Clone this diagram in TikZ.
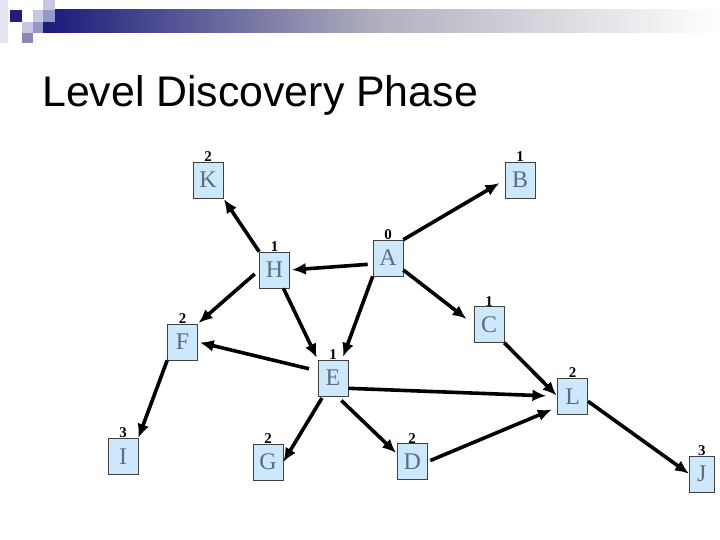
\documentclass[tikz,border=0pt]{standalone}
\usepackage{fontspec}
\setmainfont{Liberation Serif}
\newfontfamily\titulo{Liberation Sans}
\usepackage{tikz}
\usetikzlibrary{arrows.meta}

\definecolor{marinho}{HTML}{1E1E7C}
\definecolor{lilas}{HTML}{C8C8E4}
\definecolor{lilasmedio}{HTML}{9898C8}
\definecolor{fundocaixa}{HTML}{CDE8FB}
\definecolor{letra}{HTML}{5A6B8C}

\begin{document}
\begin{tikzpicture}[
    x=1bp, y=-1bp,
    caixa/.style={draw=black!75, line width=0.6bp, fill=fundocaixa, text=letra,
      minimum width=30bp, minimum height=36bp, inner sep=6bp,
      font=\fontsize{24}{28}\selectfont, label distance=9bp},
    nivel/.style={inner sep=0pt, font=\fontsize{15}{17}\selectfont\bfseries},
    seta/.style={-{Latex[length=14bp, width=12bp]}, line width=3.6bp}
  ]
    \useasboundingbox (0,0) rectangle (720,540);

    % faixa do topo
    \fill[lilas!50] (0,0) rectangle (8,43);
    \shade[left color=marinho, right color=marinho!30!gray!50] (55,10) rectangle (380,33);
    \shade[left color=marinho!30!gray!50, right color=white] (380,10) rectangle (720,33);
    \fill[marinho] (10,10) rectangle (22,22);
    \fill[lilas] (33,10) rectangle (43,22);
    \fill[lilas] (43,0) rectangle (55,10);
    \fill[lilasmedio] (43,10) rectangle (55,22);
    \fill[marinho] (43,22) rectangle (55,33);
    \fill[lilas] (22,22) rectangle (33,33);
    \fill[lilasmedio] (33,22) rectangle (43,33);
    \fill[lilasmedio!90!black] (22,33) rectangle (33,43);

    \node[anchor=base west, inner sep=0pt, font=\titulo\fontsize{43}{50}\selectfont]
      (titulo) at (42,106.7) {Level Discovery Phase};

    \node[caixa, label={[nivel]above:2}] (K) at (208,180) {K};
    \node[caixa, label={[nivel]above:1}] (B) at (520,180) {B};
    \node[caixa, label={[nivel]above:0}] (A) at (388,258) {A};
    \node[caixa, label={[nivel]above:1}] (H) at (274.5,270) {H};
    \node[caixa, label={[nivel]above:2}] (F) at (182.5,342) {F};
    \node[caixa, label={[nivel]above:1}] (C) at (489,324.5) {C};
    \node[caixa, label={[nivel]above:1}] (E) at (333,378) {E};
    \node[caixa, label={[nivel]above:2}] (L) at (572.7,396.3) {L};
    \node[caixa, label={[nivel]above:3}] (I) at (123,456.3) {I};
    \node[caixa, label={[nivel]above:2}] (G) at (268,462) {G};
    \node[caixa, label={[nivel]above:2}] (D) at (412.2,461.7) {D};
    \node[caixa, minimum width=25bp, label={[nivel]above:3}] (J) at (701.8,473.8) {J};

    \draw[seta, shorten >=6bp] (A.north east) -- (B.west);
    \draw[seta, shorten <=5bp, shorten >=2bp] ([yshift=-6bp]A.west) -- (H.east);
    \draw[seta, shorten >=1bp] (H.north west) -- (K.south east);
    \draw[seta, shorten <=6bp, shorten >=1bp] (H.west) -- (F.north east);
    \draw[seta, shorten >=2bp] (H.-64) -- (E.north west);
    \draw[seta, shorten >=3bp] (A.south west) -- (E.64);
    \draw[seta, shorten >=9bp] (A.-38) -- (C.west);
    \draw[seta, shorten <=9bp, shorten >=2bp] (E.155) -- (F.east);
    \draw[seta, shorten >=11bp] (E.-34) -- (L.west);
    \draw[seta, shorten >=1bp] (C.south east) -- (L.west);
    \draw[seta] (F.south west) -- (I.north east);
    \draw[seta, shorten <=2bp] ([xshift=-10bp]E.south) -- (G.east);
    \draw[seta, shorten <=6bp, shorten >=1bp] ([xshift=4bp]E.south) -- ([yshift=8bp]D.west);
    \draw[seta, shorten <=3bp, shorten >=6bp] (D.east) -- ([yshift=-11bp]L.west);
    \draw[seta] ([yshift=-5bp]L.east) -- (J.west);
\end{tikzpicture}
\end{document}
